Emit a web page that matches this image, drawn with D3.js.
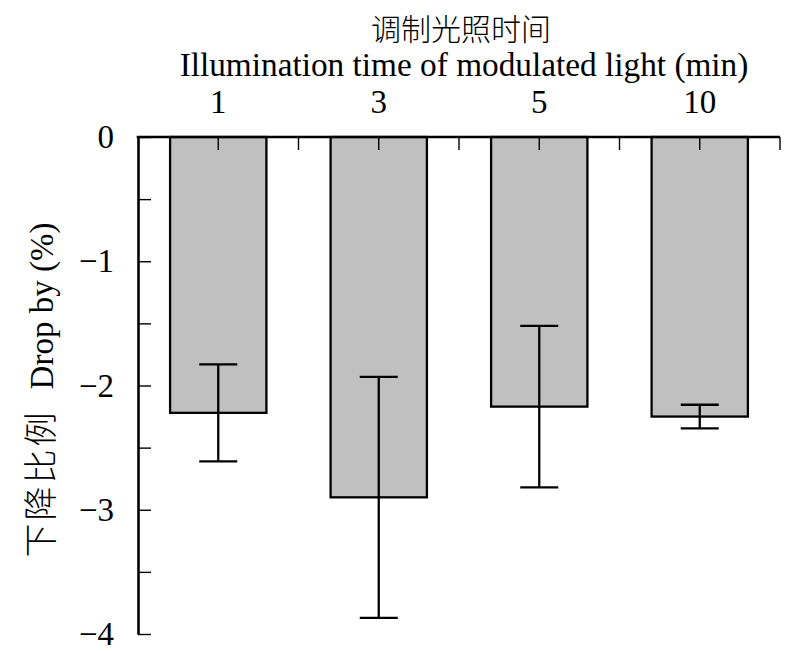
<!DOCTYPE html>
<html>
<head>
<meta charset="utf-8">
<script src="https://cdn.jsdelivr.net/npm/d3@7"></script>
<style>
  html, body { margin: 0; padding: 0; background: #fff; }
  svg { display: block; }
</style>
</head>
<body>
<svg id="chart" width="800" height="651"></svg>
<script>
// ---- data ----
const categories = ["1", "3", "5", "10"];
const values = [-2.22, -2.90, -2.17, -2.25];
const errors = [0.39, 0.97, 0.65, 0.095];
const yTickValues = [0, -1, -2, -3, -4];
const yMinorTickValues = [-0.5, -1.5, -2.5, -3.5];
const titleCN = "调制光照时间";
const titleEN = "Illumination time of modulated light (min)";
const yTitleCN = "下降比例";
const yTitleEN = "Drop by (%)";

// ---- layout ----
const svg = d3.select("#chart");
const plotLeft = 138, plotRight = 780, plotTop = 137, plotBottom = 634;
const serif = "'Liberation Serif', 'Times New Roman', serif";
const cjk = "'Noto Sans CJK SC', sans-serif";

const x = d3.scaleBand().domain(categories).range([plotLeft, plotRight])
  .paddingInner(0.4).paddingOuter(0.2);
const y = d3.scaleLinear().domain([0, -4]).range([plotTop, plotBottom]);

// bars
svg.append("g").selectAll("rect").data(categories).join("rect")
  .attr("x", d => x(d))
  .attr("y", y(0))
  .attr("width", x.bandwidth())
  .attr("height", (d, i) => y(values[i]) - y(0))
  .attr("fill", "#c0c0c0")
  .attr("stroke", "#000")
  .attr("stroke-width", 2.3);

// error bars
const capW = 38;
const eg = svg.append("g").attr("stroke", "#000").attr("stroke-width", 2.3);
categories.forEach((c, i) => {
  const cx = x(c) + x.bandwidth() / 2;
  const hi = y(values[i] + errors[i]);
  const lo = y(values[i] - errors[i]);
  eg.append("line").attr("x1", cx).attr("x2", cx).attr("y1", hi).attr("y2", lo);
  eg.append("line").attr("x1", cx - capW / 2).attr("x2", cx + capW / 2).attr("y1", hi).attr("y2", hi);
  eg.append("line").attr("x1", cx - capW / 2).attr("x2", cx + capW / 2).attr("y1", lo).attr("y2", lo);
});

// y axis (ticks inward, to the right)
const yAxis = d3.axisLeft(y).tickValues(yTickValues.concat(yMinorTickValues))
  .tickSizeInner(-13).tickSizeOuter(0)
  .tickFormat(d => yTickValues.includes(d) ? (d < 0 ? "\u2212" + Math.abs(d) : String(d)) : "");
const gy = svg.append("g").attr("transform", `translate(${plotLeft},0)`).call(yAxis);
gy.select(".domain").attr("stroke-width", 2.6);
gy.selectAll(".tick line").attr("stroke-width", 1.4);
gy.selectAll(".tick text").attr("x", -24).attr("font-family", serif)
  .attr("font-size", 33).attr("fill", "#000");

// x axis at top (ticks inward, downward), with boundary ticks
const xAxis = d3.axisTop(x).tickSizeInner(-13).tickSizeOuter(0);
const gx = svg.append("g").attr("transform", `translate(0,${plotTop})`).call(xAxis);
gx.select(".domain").attr("stroke-width", 2.6)
  .attr("d", `M${plotLeft - 1.3},0H${plotRight}`);
gx.selectAll(".tick line").attr("stroke-width", 1.4);
gx.selectAll(".tick text").attr("y", -24).attr("font-family", serif)
  .attr("font-size", 33).attr("fill", "#000");
// boundary ticks between categories
const step = x.step();
gx.append("g").selectAll("line").data(categories).join("line")
  .attr("x1", d => x(d) + x.bandwidth() / 2 + step / 2)
  .attr("x2", d => x(d) + x.bandwidth() / 2 + step / 2)
  .attr("y1", 0).attr("y2", 13)
  .attr("stroke", "#000").attr("stroke-width", 1.4);

// titles
const cxTitle = (plotLeft + plotRight) / 2 + 2;
svg.append("text").attr("x", cxTitle).attr("y", 40)
  .attr("text-anchor", "middle").attr("font-family", cjk).attr("font-size", 30)
  .attr("font-weight", 300).text(titleCN);
svg.append("text").attr("x", cxTitle + 3).attr("y", 76)
  .attr("text-anchor", "middle").attr("font-family", serif).attr("font-size", 33.3)
  .text(titleEN);

// y title rotated
const yt = svg.append("text")
  .attr("transform", "translate(53,390) rotate(-90)")
  .attr("text-anchor", "middle");
yt.append("tspan").attr("font-family", cjk).attr("font-size", 34).attr("font-weight", 300)
  .attr("letter-spacing", 3).text(yTitleCN);
yt.append("tspan").attr("font-family", serif).attr("font-size", 33).attr("dx", 20).text(yTitleEN);
</script>
</body>
</html>
